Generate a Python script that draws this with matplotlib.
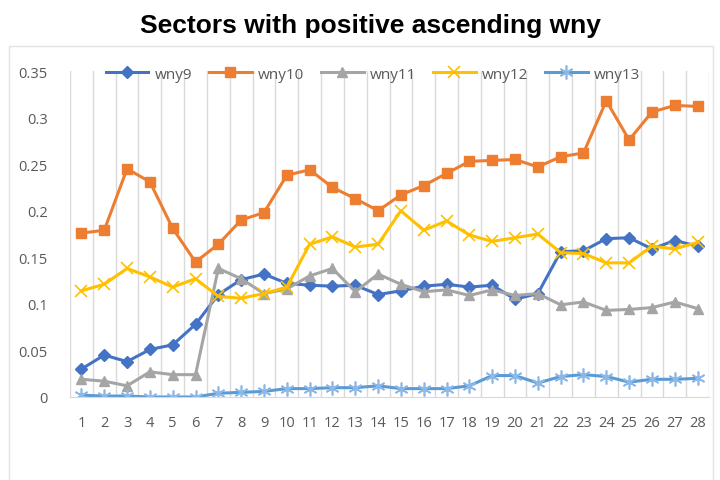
import numpy as np
import matplotlib.pyplot as plt
from matplotlib.patches import Rectangle

# sector index 1..28
sectors = list(range(1, 29))

wny9 = [0.030, 0.045, 0.038, 0.051, 0.056, 0.078, 0.110, 0.126, 0.132, 0.122,
        0.120, 0.119, 0.120, 0.110, 0.114, 0.119, 0.121, 0.118, 0.120, 0.105,
        0.111, 0.156, 0.157, 0.170, 0.171, 0.159, 0.168, 0.162]
wny10 = [0.176, 0.179, 0.245, 0.231, 0.181, 0.145, 0.164, 0.190, 0.198, 0.238,
         0.244, 0.225, 0.213, 0.200, 0.217, 0.227, 0.240, 0.253, 0.254, 0.255,
         0.247, 0.258, 0.262, 0.318, 0.276, 0.306, 0.313, 0.312]
wny11 = [0.019, 0.017, 0.012, 0.027, 0.024, 0.024, 0.138, 0.127, 0.111, 0.116,
         0.130, 0.138, 0.113, 0.132, 0.121, 0.113, 0.115, 0.109, 0.115, 0.109,
         0.111, 0.099, 0.102, 0.093, 0.094, 0.096, 0.102, 0.095]
wny12 = [0.114, 0.121, 0.138, 0.129, 0.118, 0.127, 0.108, 0.106, 0.111, 0.118,
         0.164, 0.172, 0.161, 0.164, 0.200, 0.179, 0.189, 0.174, 0.167, 0.171,
         0.175, 0.155, 0.154, 0.144, 0.144, 0.162, 0.159, 0.166]
wny13 = [0.002, 0.001, 0.001, 0.000, 0.000, 0.000, 0.004, 0.005, 0.006, 0.009,
         0.009, 0.010, 0.010, 0.012, 0.009, 0.009, 0.009, 0.012, 0.023, 0.023,
         0.015, 0.022, 0.024, 0.022, 0.016, 0.019, 0.019, 0.020]

plt.rcParams['font.family'] = ['Open Sans', 'DejaVu Sans']

fig = plt.figure(figsize=(7.2, 4.81), dpi=100)

# light outer frame of the chart area
fig.patches.append(Rectangle((9 / 720, -0.01), 704 / 720, 1 - 47 / 481 + 0.01,
                             transform=fig.transFigure, fill=False,
                             edgecolor='#e3e3e3', linewidth=1))

fig.text(0.514, 0.945, 'Sectors with positive ascending wny', ha='center', va='center',
         fontsize=19, fontweight='bold', family='Liberation Sans', color='black')

ax = fig.add_axes([70 / 720, 83 / 481, 639 / 720, 326 / 481])

ax.plot(sectors, wny9, color='#4472C4', lw=2.2, marker='D', ms=6, label='wny9')
ax.plot(sectors, wny10, color='#ED7D31', lw=2.2, marker='s', ms=7.5, label='wny10')
ax.plot(sectors, wny11, color='#A5A5A5', lw=2.2, marker='^', ms=7.5, label='wny11')
ax.plot(sectors, wny12, color='#FFC000', lw=2.2, marker='x', ms=9, mew=1.2, label='wny12')
ax.plot(sectors, wny13, color='#5B9BD5', lw=2.2, marker=(6, 2, 0), ms=10, mew=1.2,
        mec='#8DB8E6', label='wny13')

ax.set_xlim(0.5, 28.5)
ax.set_ylim(0, 0.35)

# vertical gridlines between categories
for b in np.arange(0.5, 29, 1):
    ax.axvline(b, color='#d9d9d9', lw=1, zorder=0)

for s in ['top', 'right', 'left']:
    ax.spines[s].set_visible(False)
ax.spines['bottom'].set_color('#d9d9d9')

ax.set_xticks(sectors)
ax.set_xticklabels([str(s) for s in sectors])
ax.set_yticks([0, 0.05, 0.1, 0.15, 0.2, 0.25, 0.3, 0.35])
ax.set_yticklabels(['0', '0.05', '0.1', '0.15', '0.2', '0.25', '0.3', '0.35'])
ax.tick_params(axis='both', length=0, labelsize=10.5, colors='#595959')
ax.tick_params(axis='x', pad=13)
ax.tick_params(axis='y', pad=16)

leg = ax.legend(loc='center', bbox_to_anchor=(0.474, 0.99), ncol=5, frameon=False,
                fontsize=11, handlelength=2.8, handletextpad=0.4, columnspacing=1.1)
for t in leg.get_texts():
    t.set_color('#595959')

fig.savefig('out.png', dpi=100)
